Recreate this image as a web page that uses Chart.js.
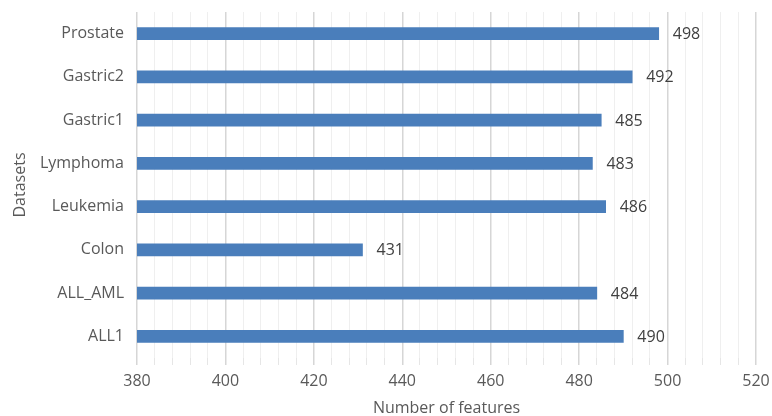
<!DOCTYPE html>
<html>
<head>
<meta charset="utf-8">
<script src="https://cdn.jsdelivr.net/npm/chart.js@4/dist/chart.umd.min.js"></script>
<style>
  html, body { margin: 0; padding: 0; background: #fff; }
  #wrap { width: 772px; height: 416px; }
</style>
</head>
<body>
<div id="wrap"><canvas id="featuresChart"></canvas></div>
<script>
const datasets = ["Prostate", "Gastric2", "Gastric1", "Lymphoma", "Leukemia", "Colon", "ALL_AML", "ALL1"];
const featureCounts = [498, 492, 485, 483, 486, 431, 484, 490];
const axisMin = 380;
const axisMax = 520;
const majorStep = 20;
const minorStep = 4;

const font = "'Open Sans', 'Noto Sans', sans-serif";

// draws the count just to the right of each bar
const valueLabels = {
    id: "valueLabels",
    afterDatasetsDraw(chart) {
        const ctx = chart.ctx;
        const meta = chart.getDatasetMeta(0);
        ctx.save();
        ctx.font = "16px " + font;
        ctx.fillStyle = "#404040";
        ctx.textAlign = "left";
        ctx.textBaseline = "middle";
        meta.data.forEach((bar, i) => {
            ctx.fillText(String(featureCounts[i]), bar.x + 14, bar.y + 1);
        });
        ctx.restore();
    }
};

const isMajor = v => (v - axisMin) % majorStep === 0;

new Chart(document.getElementById("featuresChart"), {
    type: "bar",
    data: {
        labels: datasets,
        datasets: [{
            data: featureCounts,
            backgroundColor: "#4a7ebb",
            borderWidth: 0,
            barThickness: 12
        }]
    },
    options: {
        indexAxis: "y",
        responsive: true,
        maintainAspectRatio: false,
        animation: false,
        layout: { padding: { top: 12, right: 16, left: 0, bottom: 0 } },
        plugins: {
            legend: { display: false },
            tooltip: { enabled: false }
        },
        scales: {
            x: {
                min: axisMin,
                max: axisMax,
                afterFit(scale) {
                    scale.height = 58;
                    scale.paddingLeft = 0;
                    scale.paddingRight = 0;
                },
                border: { display: false },
                grid: {
                    color: c => isMajor(c.tick.value) ? "#d6d6d6" : "#efefef",
                    tickColor: c => isMajor(c.tick.value) ? "#d6d6d6" : "#e6e6e6",
                    tickLength: 7,
                    lineWidth: c => isMajor(c.tick.value) ? 1.5 : 1
                },
                ticks: {
                    stepSize: minorStep,
                    autoSkip: false,
                    maxRotation: 0,
                    padding: 7,
                    color: "#595959",
                    font: { family: font, size: 16 },
                    callback: v => isMajor(v) ? String(v) : ""
                },
                title: {
                    display: true,
                    text: "Number of features",
                    color: "#595959",
                    font: { family: font, size: 16 },
                    padding: { top: 0, bottom: -2 }
                }
            },
            y: {
                afterFit(scale) {
                    scale.width = 137;
                    scale.paddingTop = 0;
                    scale.paddingBottom = 0;
                },
                border: { display: false },
                grid: { display: false, drawTicks: false },
                ticks: {
                    padding: 13,
                    color: "#595959",
                    font: { family: font, size: 16 }
                },
                title: {
                    display: true,
                    text: "Datasets",
                    color: "#595959",
                    font: { family: font, size: 16 },
                    padding: { top: 11, bottom: 0 }
                }
            }
        }
    },
    plugins: [valueLabels]
});
</script>
</body>
</html>
